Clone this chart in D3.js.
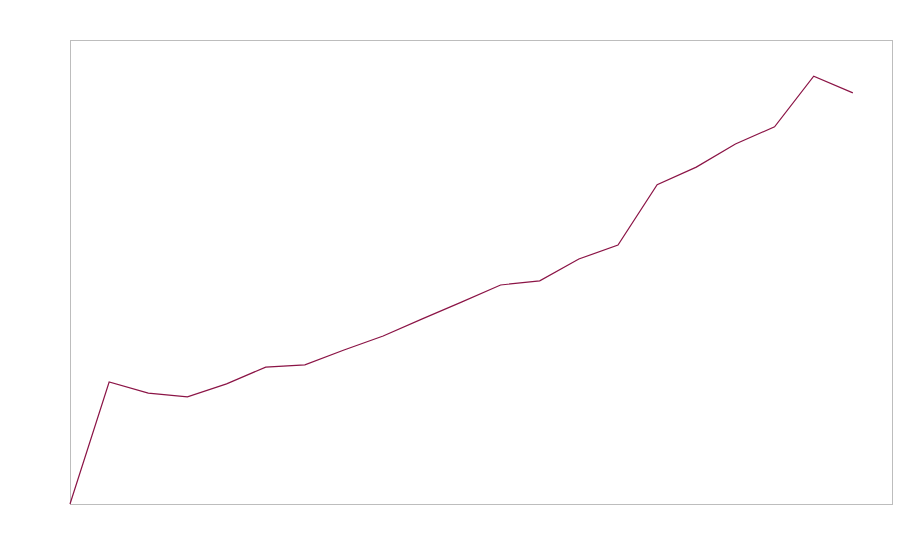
<!DOCTYPE html>
<html>
<head>
<meta charset="utf-8">
<script src="https://cdn.jsdelivr.net/npm/d3@7"></script>
<style>
  body { margin: 0; background: #fff; }
</style>
</head>
<body>
<script>
var width = 900;
var height = 560;
var margin = {top: 40, right: 8, bottom: 56, left: 70};

// data
var steps = d3.range(21);
var values = [0, 26.3, 23.9, 23.1, 25.9, 29.5, 30.0, 33.2, 36.2, 39.9, 43.5,
              47.2, 48.1, 52.8, 55.8, 68.8, 72.6, 77.6, 81.3, 92.2, 88.6];

var innerWidth = width - margin.left - margin.right;
var innerHeight = height - margin.top - margin.bottom;

var x = d3.scaleLinear().domain([0, 21]).range([0, innerWidth]);
var y = d3.scaleLinear().domain([0, 100]).range([innerHeight, 0]);

var svg = d3.select("body").append("svg")
    .attr("width", width)
    .attr("height", height);

var g = svg.append("g")
    .attr("transform", "translate(" + margin.left + "," + margin.top + ")");

// frame
g.append("rect")
    .attr("x", 0.5)
    .attr("y", 0.5)
    .attr("width", innerWidth)
    .attr("height", innerHeight)
    .attr("fill", "none")
    .attr("stroke", "#bdbdbd");

var line = d3.line()
    .x((d, i) => x(steps[i]))
    .y(d => y(d));

g.append("path")
    .datum(values)
    .attr("fill", "none")
    .attr("stroke", "#8b1446")
    .attr("stroke-width", 1.2)
    .attr("d", line);
</script>
</body>
</html>
